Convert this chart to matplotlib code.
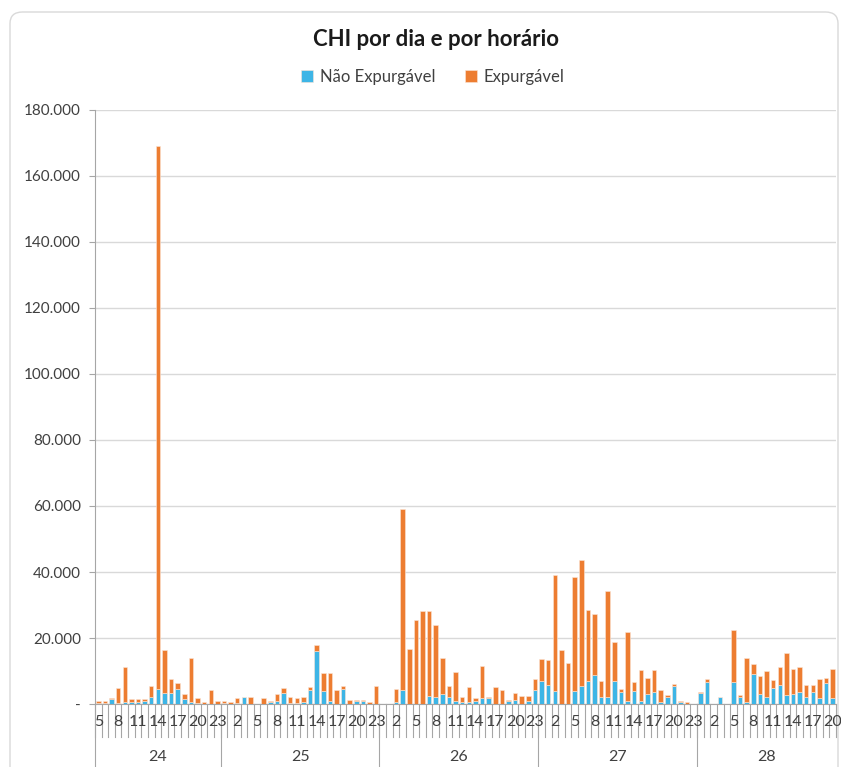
import numpy as np
import matplotlib.pyplot as plt
from matplotlib.patches import FancyBboxPatch
from matplotlib.ticker import FuncFormatter, MultipleLocator
import matplotlib.transforms as mtransforms

plt.rcParams['font.family'] = ['Lato', 'DejaVu Sans']

dias = [24, 25, 26, 27, 28]
horas = list(range(5, 24)) + list(range(24)) * 3 + list(range(21))

# total per hour (Não Expurgável + Expurgável) and the blue part
total = [1000, 1000, 1800, 4800, 11200, 1400, 1400, 1400, 5500, 169000,
         16500, 7500, 6300, 3000, 14000, 1800, 600, 4200, 900,
         900, 600, 1800, 2200, 2200, 0, 1800, 1000, 3000, 4700, 2200, 1700,
         2200, 5100, 17800, 9500, 9500, 4200, 5400, 1300, 1300, 1300, 600, 5400,
         0, 0, 4600, 59000, 16800, 25400, 28100, 28100, 23800, 13900, 5400, 9800,
         2100, 5000, 1700, 11500, 2100, 5300, 4200, 1300, 3400, 2500, 2500, 7500,
         13700, 13200, 39200, 16400, 12400, 38400, 43700, 28600, 27400, 7000,
         34300, 18800, 4600, 21700, 6600, 10300, 7900, 10300, 4200, 2600, 6200,
         1000, 500, 0,
         3700, 7600, 0, 2200, 0, 22300, 2600, 14000, 12100, 8400, 9900, 7200,
         11300, 15400, 10500, 11300, 5900, 5900, 7700, 8000, 10500]
nao_expurgavel = [200, 400, 1400, 400, 500, 700, 500, 1000, 2200, 4400,
                  3200, 3200, 4400, 1400, 600, 200, 0, 0, 0,
                  200, 0, 300, 2200, 0, 0, 0, 600, 800, 3400, 400, 400,
                  600, 4300, 16100, 3800, 800, 0, 4600, 0, 900, 900, 0, 0,
                  0, 0, 600, 4300, 0, 0, 0, 2500, 2000, 3000, 2000, 800,
                  500, 500, 800, 1700, 1800, 0, 0, 1000, 1300, 0, 900, 4300,
                  7100, 5900, 3800, 0, 0, 3800, 5600, 7000, 8700, 2200,
                  2200, 7000, 3500, 800, 3900, 800, 3000, 3500, 500, 2200, 5600,
                  600, 0, 0,
                  3400, 6800, 0, 2200, 0, 6800, 2200, 600, 9200, 3100, 2200, 4700,
                  5900, 2700, 3100, 3500, 2200, 3500, 1900, 6400, 1900]

total = np.array(total)
nao_expurgavel = np.array(nao_expurgavel)
expurgavel = total - nao_expurgavel

azul = '#3DB5E6'
laranja = '#ED7D31'

fig = plt.figure(figsize=(8.41, 7.67), dpi=100)
W, H = 841, 767
moldura = FancyBboxPatch((10 / W, -0.05), 828 / W, 1 - 12 / H + 0.05,
                         boxstyle='round,pad=0,rounding_size=0.015',
                         transform=fig.transFigure, fc='white',
                         ec='#D9D9D9', lw=1, zorder=-10)
fig.patches.append(moldura)

ax = fig.add_axes([95 / W, 1 - 704 / H, 741 / W, 594 / H])
ax.set_facecolor('none')
x = np.arange(len(total))
ax.bar(x, nao_expurgavel, width=0.68, color=azul, edgecolor='#FBE5D6',
       linewidth=0.4, label='Não Expurgável', zorder=3)
ax.bar(x, expurgavel, width=0.68, bottom=nao_expurgavel, color=laranja,
       edgecolor='#FBE5D6', linewidth=0.4, label='Expurgável', zorder=3)

ax.set_xlim(-0.5, len(total) - 0.5)
ax.set_ylim(0, 180000)
ax.yaxis.set_major_locator(MultipleLocator(20000))
ax.yaxis.set_major_formatter(FuncFormatter(
    lambda v, p: '-' if v == 0 else f'{v:,.0f}'.replace(',', '.')))
ax.grid(axis='y', color='#D9D9D9', lw=1, zorder=0)
for s in ['top', 'right']:
    ax.spines[s].set_visible(False)
ax.spines['left'].set_color('#A6A6A6')
ax.spines['bottom'].set_color('#A6A6A6')
ax.tick_params(axis='y', length=4, color='#A6A6A6', labelsize=11,
               labelcolor='#404040', pad=6)
ax.set_xticks([])

trans = mtransforms.blended_transform_factory(ax.transData, ax.transAxes)
# hour labels every 3 categories, separators between every category
for i, h in enumerate(horas):
    if i % 3 == 0:
        ax.text(i, -0.031, str(h), transform=trans, ha='center', va='center',
                fontsize=11.5, color='#404040')
for b in np.arange(-0.5, len(total) + 0.5, 1):
    ax.plot([b, b], [0, -0.056], transform=trans, color='#A6A6A6', lw=0.8,
            clip_on=False)
# day separators and labels
inicio = 0
for d in dias:
    n = 19 if d == 24 else (21 if d == 28 else 24)
    ax.text(inicio + (n - 1) / 2, -0.089, str(d), transform=trans, ha='center',
            va='center', fontsize=11.5, color='#404040')
    inicio += n
    if d != 28:
        ax.plot([inicio - 0.5] * 2, [0, -0.12], transform=trans,
                color='#A6A6A6', lw=0.8, clip_on=False)
ax.plot([-0.5, -0.5], [0, -0.12], transform=trans, color='#A6A6A6', lw=0.8,
        clip_on=False)

fig.text(436 / W, 1 - 40 / H, 'CHI por dia e por horário', ha='center',
         va='center', fontsize=16, fontweight='bold', color='#1a1a1a')
fig.legend(loc='center', bbox_to_anchor=(433 / W, 1 - 77 / H), ncol=2,
           frameon=False, fontsize=12, handlelength=0.7, handleheight=0.7,
           handletextpad=0.4, columnspacing=1.8, labelcolor='#404040')

fig.savefig('out.png', dpi=100)
